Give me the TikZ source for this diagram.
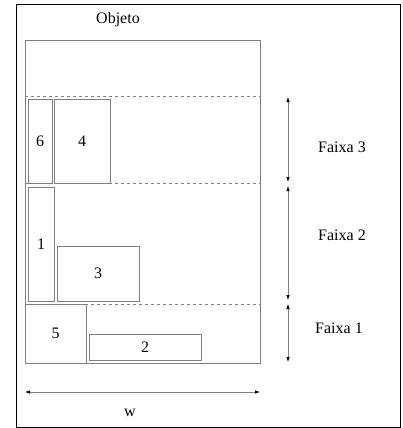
\documentclass[tikz,border=0pt]{standalone}
\usepackage{fontspec}
\setmainfont{Liberation Serif}
\usetikzlibrary{arrows.meta,positioning}

\begin{document}
\begin{tikzpicture}[x=1pt,y=-1pt,font=\fontsize{16}{19}\selectfont]
            \useasboundingbox (0,0) rectangle (403,428);
            \draw[line width=1pt] (16,5) rectangle (400,427);
            \begin{scope}[peca/.style={draw=gray, line width=0.6pt, inner sep=0pt, outer sep=0pt}]
                \node(objeto) at (142.5,201.5) [peca, minimum width=235pt, minimum height=323pt]{};
                \node(titulo) at (118,20) {Objeto};
                %%%
                \node(p6) at (40,141) [peca, minimum width=24pt, minimum height=84pt]{6};
                \node(p4) at (82,141) [peca, minimum width=56pt, minimum height=84pt]{4};
                \node(p1) at (41,244) [peca, minimum width=26pt, minimum height=114pt]{1};
                \node(p3) at (98,273.5) [peca, minimum width=82pt, minimum height=55pt]{3};
                \node(p5) at (55.5,333.5) [peca, minimum width=61pt, minimum height=59pt]{5};
                \node(p2) at (145,347) [peca, minimum width=112pt, minimum height=26pt]{2};
            \end{scope}
            % linhas das faixas
            \begin{scope}[gray, line width=0.6pt, dash pattern=on 3pt off 3pt]
                \draw (25,96) -- (260,96);
                \draw (25,183.5) -- (260,183.5);
                \draw (25,304) -- (260,304);
            \end{scope}
            %
            \coordinate(f3a) at (288,97);
            \coordinate(f3b) at (288,182);
            \coordinate(f2a) at (288,186);
            \coordinate(f2b) at (288,300);
            \coordinate(f1a) at (288,304);
            \coordinate(f1b) at (288,362);
            \coordinate(wa) at (25,392);
            \coordinate(wb) at (260,392);
            \begin{scope}[gray, line width=0.6pt, {Latex[black,length=5pt,width=3.5pt]}-{Latex[black,length=5pt,width=3.5pt]}]
                \draw (f3a) -- (f3b);
                \draw (f2a) -- (f2b);
                \draw (f1a) -- (f1b);
                \draw (wa) -- (wb);
            \end{scope}
            %
            \node(faixa3) at (342,147) {Faixa 3};
            \node(faixa2) at (342,235) {Faixa 2};
            \node(faixa1) at (339,328) {Faixa 1};
            \node(w) at (130,413) {w};
        \end{tikzpicture}
\end{document}
